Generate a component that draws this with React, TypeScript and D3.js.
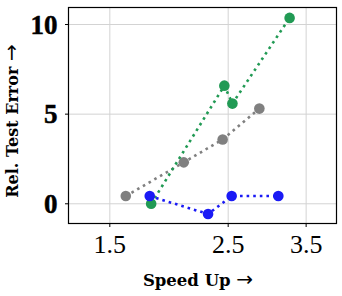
import { useEffect, useRef } from "react"
import * as d3 from "d3"

// series values (x: speed up, y: rel. test error)
const grayX = [1.607, 2.064, 2.441, 2.86]
const grayY = [0.43, 2.31, 3.59, 5.31]
const greenX = [1.793, 2.459, 2.546, 3.259]
const greenY = [0.0, 6.59, 5.59, 10.37]
const blueX = [1.782, 2.292, 2.538, 3.104]
const blueY = [0.43, -0.57, 0.43, 0.43]

const xTicks = [1.5, 2.5, 3.5]
const yTicks = [0, 5, 10]

const series = [
  { name: "gray", color: "#808080", xs: grayX, ys: grayY },
  { name: "green", color: "#219a54", xs: greenX, ys: greenY },
  { name: "blue", color: "#1a1af5", xs: blueX, ys: blueY },
]

const W = 342
const H = 296

export default function App() {
  const svgRef = useRef<SVGSVGElement>(null)

  useEffect(() => {
    if (!svgRef.current) return
    const svg = d3.select(svgRef.current)
    svg.selectAll("*").remove()

    const left = 68.5
    const right = 336.5
    const top = 7.5
    const bottom = 223.5

    const x = d3.scaleLog().domain([1.255, 3.99]).range([left, right])
    const y = d3.scaleLinear().domain([-1.1, 10.95]).range([bottom, top])

    // grid
    const grid = svg.append("g")
    grid
      .selectAll("line.vx")
      .data(xTicks)
      .enter()
      .append("line")
      .attr("x1", (d) => x(d))
      .attr("x2", (d) => x(d))
      .attr("y1", top)
      .attr("y2", bottom)
      .attr("stroke", "#d3d3d3")
      .attr("stroke-width", 1)
    grid
      .selectAll("line.hy")
      .data(yTicks)
      .enter()
      .append("line")
      .attr("x1", left)
      .attr("x2", right)
      .attr("y1", (d) => y(d))
      .attr("y2", (d) => y(d))
      .attr("stroke", "#d3d3d3")
      .attr("stroke-width", 1)

    // series: dotted line, then markers
    const line = d3
      .line<[number, number]>()
      .x((d) => x(d[0]))
      .y((d) => y(d[1]))

    series.forEach((s) => {
      const pts: [number, number][] = s.xs.map((v, i) => [v, s.ys[i]])
      svg
        .append("path")
        .attr("d", line(pts))
        .attr("fill", "none")
        .attr("stroke", s.color)
        .attr("stroke-width", 2.6)
        .attr("stroke-dasharray", "2.6 4")
      svg
        .append("g")
        .selectAll("circle")
        .data(pts)
        .enter()
        .append("circle")
        .attr("cx", (d) => x(d[0]))
        .attr("cy", (d) => y(d[1]))
        .attr("r", 5.3)
        .attr("fill", s.color)
    })

    // frame
    svg
      .append("rect")
      .attr("x", left)
      .attr("y", top)
      .attr("width", right - left)
      .attr("height", bottom - top)
      .attr("fill", "none")
      .attr("stroke", "#000")
      .attr("stroke-width", 1.2)

    // ticks
    svg
      .append("g")
      .selectAll("line")
      .data(xTicks)
      .enter()
      .append("line")
      .attr("x1", (d) => x(d))
      .attr("x2", (d) => x(d))
      .attr("y1", bottom)
      .attr("y2", bottom + 3.5)
      .attr("stroke", "#000")
    svg
      .append("g")
      .selectAll("line")
      .data(yTicks)
      .enter()
      .append("line")
      .attr("x1", left - 3.5)
      .attr("x2", left)
      .attr("y1", (d) => y(d))
      .attr("y2", (d) => y(d))
      .attr("stroke", "#000")

    // tick labels
    svg
      .append("g")
      .selectAll("text")
      .data(xTicks)
      .enter()
      .append("text")
      .attr("x", (d) => x(d))
      .attr("y", 253)
      .attr("text-anchor", "middle")
      .style("font-family", "'Liberation Serif', serif")
      .style("font-size", "26px")
      .attr("fill", "#000")
      .text((d) => d.toFixed(1))
    svg
      .append("g")
      .selectAll("text")
      .data(yTicks)
      .enter()
      .append("text")
      .attr("x", 57.5)
      .attr("y", (d) => y(d) + 9)
      .attr("text-anchor", "end")
      .style("font-family", "'Liberation Serif', serif")
      .style("font-size", "27px")
      .style("font-weight", "bold")
      .style("stroke", "#000")
      .style("stroke-width", "0.5px")
      .attr("fill", "#000")
      .text((d) => String(d))

    // axis labels, with a long thin arrow as in LaTeX's \rightarrow
    const xl = svg
      .append("text")
      .attr("x", 198)
      .attr("y", 285.5)
      .attr("text-anchor", "middle")
      .style("font-family", "'DejaVu Serif', serif")
      .style("font-size", "16.5px")
      .style("font-weight", "bold")
      .attr("fill", "#000")
    xl.append("tspan").text("Speed Up ")
    xl.append("tspan")
      .style("font-family", "'DejaVu Sans', sans-serif")
      .style("font-weight", "normal")
      .style("font-size", "20px")
      .text("\u2192")

    const yl = svg
      .append("text")
      .attr("transform", "translate(18.3, 121) rotate(-90)")
      .attr("text-anchor", "middle")
      .style("font-family", "'DejaVu Serif', serif")
      .style("font-size", "16px")
      .style("font-weight", "bold")
      .attr("fill", "#000")
    yl.append("tspan").text("Rel. Test Error ")
    yl.append("tspan")
      .style("font-family", "'DejaVu Sans', sans-serif")
      .style("font-weight", "normal")
      .style("font-size", "20px")
      .text("\u2192")
  }, [])

  return (
    <svg
      ref={svgRef}
      width={W}
      height={H}
      style={{ position: "absolute", left: 0, top: 0, background: "#fff" }}
    ></svg>
  )
}
